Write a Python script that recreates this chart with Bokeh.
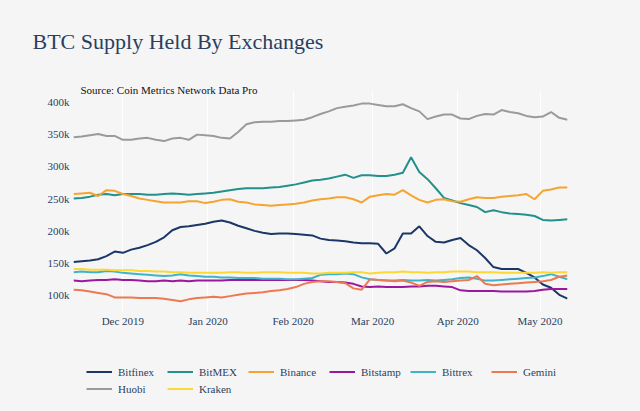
import pandas as pd
from bokeh.plotting import figure
from bokeh.layouts import column
from bokeh.models import (Range1d, Title, Legend, LegendItem, DatetimeTickFormatter,
                          MonthsTicker, PrintfTickFormatter, FixedTicker, ColumnDataSource)
from bokeh.embed import file_html
from bokeh.resources import INLINE

# ---- data (BTC held, thousands) ----
dates = pd.date_range("2019-11-13", periods=61, freq="3D")

bitfinex = [152,153,154,156,161,168,166,171,174,178,183,190,201,206,207,209,211,214,216,213,
            208,204,200,197,195,196,196,195,194,193,188,186,185,184,182,181,181,180,165,173,
            196,196,207,192,183,182,186,189,178,170,158,144,141,141,141,135,128,117,112,101,95]
bitmex = [250,251,253,256,257,255,257,257,257,256,256,257,258,257,256,257,258,259,261,263,
          265,266,266,266,267,268,270,272,275,278,279,281,284,287,282,286,286,285,285,287,
          290,314,291,280,266,251,247,243,240,237,229,232,229,227,226,225,223,217,216,217,218]
binance = [257,258,259,254,263,262,257,254,250,248,246,244,244,244,246,246,243,245,248,249,
           245,244,241,240,239,240,241,242,244,247,249,250,252,252,249,244,253,255,257,256,
           263,255,248,244,248,249,246,245,249,252,251,251,253,254,255,257,249,262,264,267,267]
bitstamp = [123,122,123,124,124,125,124,124,123,122,122,123,122,123,122,123,123,123,123,124,
            124,124,124,124,124,124,124,124,124,123,122,121,121,120,118,114,113,114,113,113,
            113,114,114,115,115,114,113,108,107,107,107,107,106,106,106,106,107,109,110,110,110]
bittrex = [136,137,136,136,138,137,135,134,133,132,131,130,131,133,131,130,129,129,128,128,
           127,127,127,126,126,126,125,125,126,127,132,133,133,134,133,128,125,124,123,123,
           124,123,123,124,123,124,125,127,128,126,123,123,124,125,126,127,128,130,133,129,125]
gemini = [109,108,106,104,102,97,97,97,96,96,96,95,93,91,94,96,97,98,97,99,
          101,103,104,105,107,108,110,113,118,121,122,122,121,119,111,109,125,124,123,122,
          123,120,115,121,122,121,122,123,124,130,118,116,117,118,119,120,121,122,124,129,131]
huobi = [345,346,348,350,347,347,341,341,343,344,341,339,343,344,341,349,348,347,344,343,
         353,365,368,369,369,370,370,371,372,376,381,385,390,392,394,397,397,395,393,393,
         396,390,385,373,377,380,380,374,373,378,381,380,387,384,382,378,376,377,384,375,372]
kraken = [141,141,140,140,140,139,139,139,138,138,137,137,136,136,135,135,135,135,135,136,
          136,135,135,136,136,136,135,135,135,134,134,135,135,135,136,136,134,135,136,136,
          137,136,136,135,136,136,137,137,137,136,136,136,135,135,135,135,135,136,135,136,136]

names = ["Bitfinex", "BitMEX", "Binance", "Bitstamp", "Bittrex", "Gemini", "Huobi", "Kraken"]
series = [bitfinex, bitmex, binance, bitstamp, bittrex, gemini, huobi, kraken]
colors = ["#1a3767", "#21918c", "#f5a431", "#9c179e", "#3fb3c8", "#ed7953", "#9a9a9a", "#fbd834"]
y_ticks = [100, 150, 200, 250, 300, 350, 400]

data = {"date": dates}
for n, s in zip(names, series):
    data[n] = s
src = ColumnDataSource(data)

BG = "#f5f5f5"
SERIF = "Liberation Serif"
TXT = "#2a3f5f"

p = figure(width=640, height=340, x_axis_type="datetime",
           x_range=Range1d(pd.Timestamp("2019-11-13"), pd.Timestamp("2020-05-11")),
           y_range=Range1d(75.2, 417.3),
           output_backend="svg", toolbar_location=None, title=None,
           min_border_left=73, min_border_right=73, min_border_top=90, min_border_bottom=29,
           background_fill_color=BG, border_fill_color=BG, outline_line_color=None)

for n, c in zip(names, colors):
    p.line(x="date", y=n, source=src, line_color=c, line_width=2)

# axes
mt = MonthsTicker(months=list(range(12)))
p.xaxis.ticker = mt
p.xgrid.ticker = mt
p.xaxis.formatter = DatetimeTickFormatter(months="%b %Y", days="%b %Y", years="%b %Y")
p.yaxis.ticker = FixedTicker(ticks=y_ticks)
p.yaxis.formatter = PrintfTickFormatter(format="%dk")
for ax in (p.xaxis[0], p.yaxis[0]):
    ax.axis_line_color = None
    ax.major_tick_line_color = None
    ax.minor_tick_line_color = None
    ax.major_tick_out = 0
    ax.major_tick_in = 0
    ax.minor_tick_out = 0
    ax.major_label_text_font = SERIF
    ax.major_label_text_font_size = "11px"
    ax.major_label_text_color = TXT
p.xaxis.major_label_standoff = 3
p.yaxis.major_label_standoff = 4
p.xgrid.grid_line_color = "white"
p.xgrid.grid_line_width = 1
p.ygrid.grid_line_color = None

# titles (source nearest the plot, a blank spacer, then the main title)
p.add_layout(Title(text="Source: Coin Metrics Network Data Pro", align="left", offset=7,
                   standoff=-10, text_font=SERIF, text_font_size="11px",
                   text_font_style="normal", text_color="#111111"), "above")
p.add_layout(Title(text=" ", align="left", standoff=19, text_font=SERIF,
                   text_font_size="11px"), "above")
p.add_layout(Title(text="BTC Supply Held By Exchanges", align="left", offset=-41,
                   standoff=0, text_font=SERIF, text_font_size="22px",
                   text_font_style="normal", text_color=TXT), "above")

# legend strip below the chart (same data, drawn outside its visible ranges)
p2 = figure(width=640, height=71, x_range=p.x_range, y_range=Range1d(0, 1),
            x_axis_type=None, y_axis_type=None, output_backend="svg", toolbar_location=None,
            title=None, min_border_left=73, min_border_right=73, min_border_top=0,
            min_border_bottom=0, background_fill_color=None, border_fill_color=None,
            outline_line_color=None)
p2.grid.visible = False
items = []
for n, c in zip(names, colors):
    r = p2.line(x="date", y=n, source=src, line_color=c, line_width=2)
    items.append(LegendItem(label=n, renderers=[r]))

legend = Legend(items=items, location=(13, 14), orientation="horizontal", ncols=6,
                glyph_width=26, glyph_height=17, label_height=17, label_width=49,
                label_standoff=6, spacing=0, padding=0, margin=0,
                background_fill_alpha=0, border_line_alpha=0,
                label_text_font=SERIF, label_text_font_size="11px",
                label_text_color=TXT)
p2.add_layout(legend, "center")

layout = column(p, p2, spacing=0, styles={"background-color": BG})
open("out.html", "w").write(file_html(layout, INLINE))
